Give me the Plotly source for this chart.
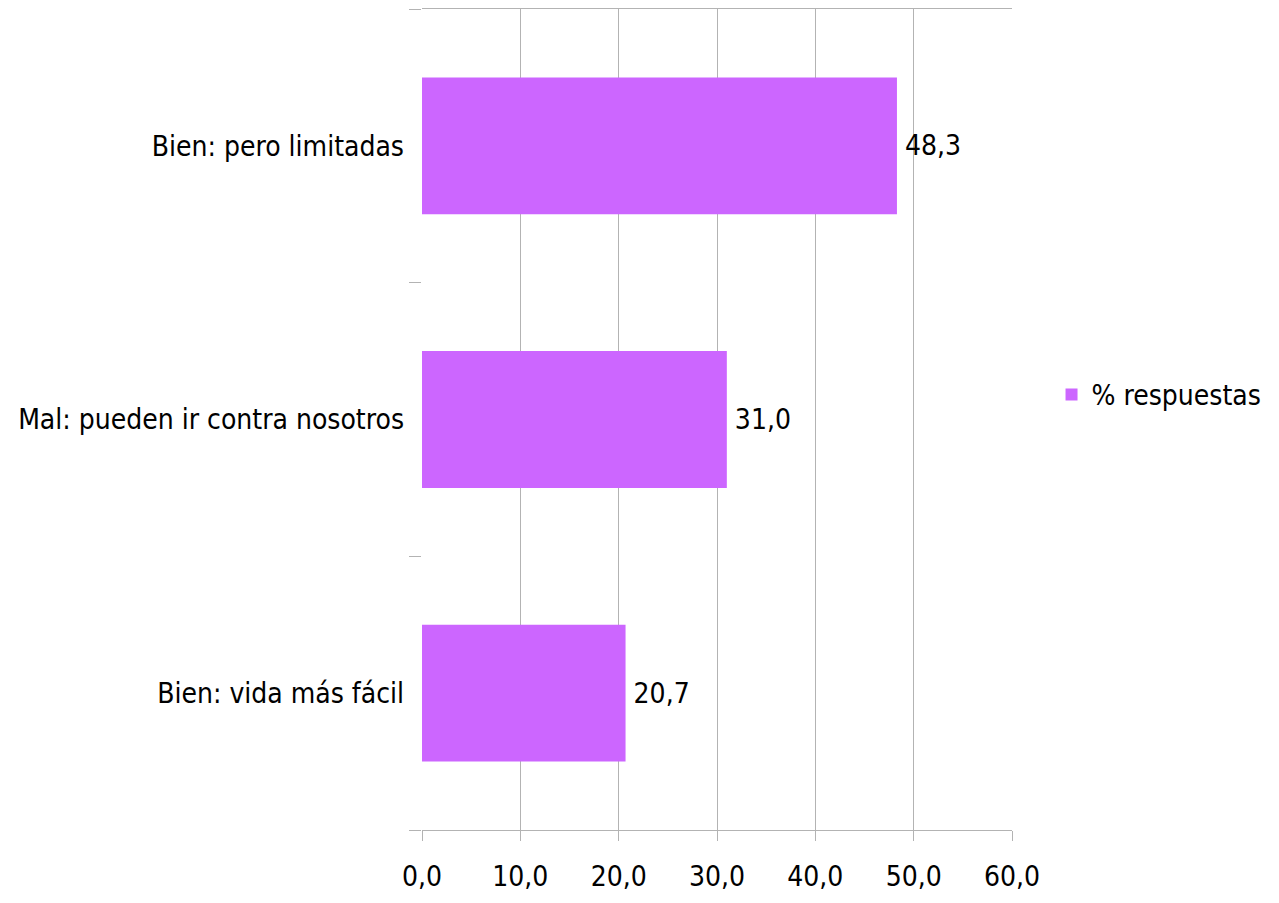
import plotly.graph_objects as go

categories = ["Bien: vida más fácil", "Mal: pueden ir contra nosotros", "Bien: pero limitadas"]
values = [20.7, 31.0, 48.3]
series_name = "% respuestas"
x_ticks = [0, 10, 20, 30, 40, 50, 60]

FONT = "DejaVu Sans Condensed, Liberation Sans Narrow, sans-serif"
GRID = "#b3b3b3"

fig = go.Figure()
fig.add_trace(go.Bar(
    y=categories, x=values, orientation="h", name=series_name,
    marker=dict(color="#cc66ff", line=dict(width=0)),
    width=0.5,
    texttemplate="\u2009%{x:.1f}", textposition="outside",
    textfont=dict(family=FONT, size=28, color="#000000"),
    cliponaxis=False, showlegend=True,
))

# page body has an 8px default margin, so the figure is sized to the remaining viewport
fig.update_layout(
    width=1271, height=895,
    margin=dict(l=414, r=267, t=1, b=73, autoexpand=False),
    paper_bgcolor="white", plot_bgcolor="white",
    separators=",.",
    font=dict(family=FONT, size=28, color="#000000"),
    showlegend=True,
    legend=dict(x=1.067, y=0.53, xanchor="left", yanchor="middle",
                font=dict(family=FONT, size=28, color="#000000"),
                itemwidth=30, bgcolor="rgba(0,0,0,0)"),
    xaxis=dict(range=[0, 60], tickvals=x_ticks, tickformat=".1f",
               showgrid=True, gridcolor=GRID, gridwidth=1,
               showline=True, linecolor=GRID, linewidth=1, mirror=True,
               ticks="outside", ticklen=10, tickcolor=GRID,
               ticklabelstandoff=11, automargin=False,
               zeroline=False, fixedrange=True),
    yaxis=dict(type="category", categoryorder="array", categoryarray=categories,
               showgrid=False, showline=False, zeroline=False,
               ticks="outside", ticklen=12, tickcolor=GRID, tickson="boundaries",
               ticklabelstandoff=17, automargin=False),
)

fig.write_html("out.html")
